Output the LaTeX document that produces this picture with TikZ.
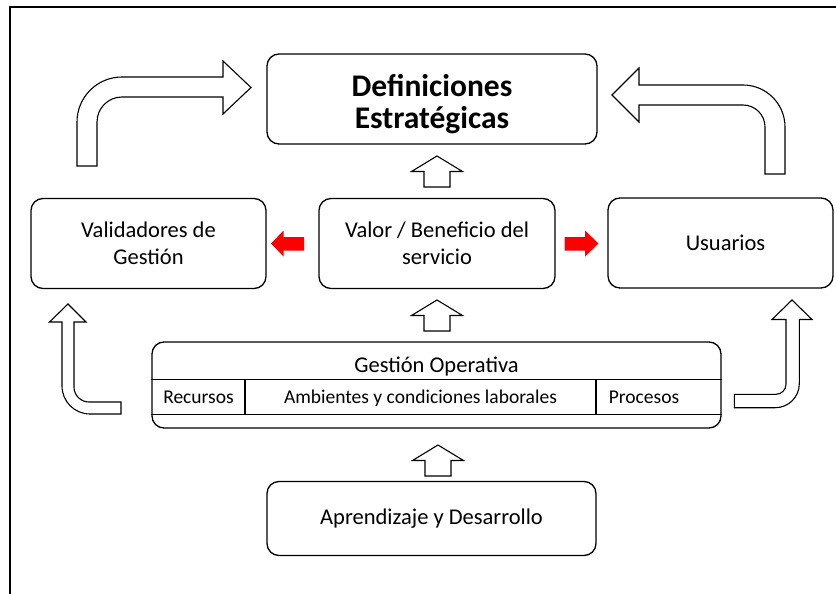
\documentclass[tikz,border=0pt]{standalone}
\usepackage{fontspec}
\setmainfont{Carlito}
\begin{document}
\begin{tikzpicture}[x=1pt,y=-1pt,
  box/.style={draw=black, line width=1.3pt, rounded corners=12pt, align=center, inner sep=0pt, font=\fontsize{22.5}{26.7}\selectfont},
  lbl/.style={inner sep=0pt, align=center},
  rowtxt/.style={inner sep=0pt, anchor=base, font=\fontsize{19.5}{22}\selectfont},
  blk/.style={draw=black, line width=1.1pt, fill=white, line join=miter},
  redarr/.style={fill=red, draw=none},
  uparr/.pic={\draw[blk] (0,0) -- (25.5,15.5) -- (13,15.5) -- (13,31) -- (-13,31) -- (-13,15.5) -- (-25.5,15.5) -- cycle;}
]
\useasboundingbox (0,0) rectangle (836,594);
% frame
\draw[line width=1.5pt] (10,594) -- (10,7) -- (836,7);

% boxes
\node[box, minimum width=330pt, minimum height=90pt] (def) at (432,99) {};
\node[lbl, font=\fontsize{31.5}{32}\selectfont\bfseries] (deft) at (432,104) {Definiciones\\Estratégicas};
\node[box, minimum width=235pt, minimum height=90pt] (val) at (148.5,243.5) {Validadores de\\Gestión};
\node[box, minimum width=236pt, minimum height=90pt] (ben) at (437,243.5) {Valor / Beneficio del\\servicio};
\node[box, minimum width=225pt, minimum height=90pt] (usu) at (720.5,243) {};
\node[lbl, font=\fontsize{22.5}{26.7}\selectfont] (usut) at (725.5,243) {Usuarios};
\node[box, minimum width=569pt, minimum height=86pt] (gest) at (436.5,385) {};
\node[box, minimum width=329pt, minimum height=74pt] (apr) at (431.5,518.5) {Aprendizaje y Desarrollo};

% gestion operativa internals
\draw[line width=1.3pt] (gest.west |- 0,379.5) coordinate (g1) -- (gest.east |- 0,379.5) coordinate (g2);
\draw[line width=1.3pt] (gest.west |- 0,414.5) coordinate (g3) -- (gest.east |- 0,414.5) coordinate (g4);
\draw[line width=1.3pt] (245,379.5) -- (245,414.5);
\draw[line width=1.3pt] (596,379.5) -- (596,414.5);
\node[font=\fontsize{22.5}{26}\selectfont] (gt) at (436.5,367) {Gestión Operativa};
\node[rowtxt] (rec) at (198.5,403.5) {Recursos};
\node[rowtxt] (amb) at (420.5,403.5) {Ambientes y condiciones laborales};
\node[rowtxt] (pro) at (644,403.5) {Procesos};

% straight up block arrows
\pic at (437,156) {uparr};
\pic at (437,300) {uparr};
\pic at (438,445) {uparr};

% red arrows
\fill[redarr] (271,243.5) -- (283.5,230.5) -- (283.5,237) -- (304,237) -- (304,250.5) -- (283.5,250.5) -- (283.5,256.5) -- cycle;
\fill[redarr] (598.5,243.5) -- (585,230.5) -- (585,237) -- (564.5,237) -- (564.5,250.5) -- (585,250.5) -- (585,256.5) -- cycle;

% bent arrow top-left
\draw[blk] (77,166) -- (77,122) .. controls (77,97.1) and (97.1,77) .. (122,77) -- (223,77) -- (223,61) -- (251,87.5) -- (223,114) -- (223,97) -- (122,97) .. controls (108.2,97) and (97,108.2) .. (97,122) -- (97,166) -- cycle;
% bent arrow top-right
\draw[blk] (785,174) -- (785,127) .. controls (785,103.8) and (766.2,85) .. (743,85) -- (639,85) -- (639,68) -- (612,95) -- (639,122) -- (639,105) -- (743,105) .. controls (755.15,105) and (765,114.85) .. (765,127) -- (765,174) -- cycle;
% bent arrow bottom-left
\draw[blk] (68,304) -- (86,322) -- (74,322) -- (74,387) .. controls (74,395.3) and (80.7,402) .. (89,402) -- (121,402) -- (121,414) -- (90,414) .. controls (74.5,414) and (62,401.5) .. (62,386) -- (62,322) -- (49.5,322) -- cycle;
% bent arrow bottom-right
\draw[blk] (792,300) -- (812,319.5) -- (799.3,319.5) -- (799.3,383.7) .. controls (799.3,397) and (788.6,407.7) .. (775.3,407.7) -- (734.3,407.7) -- (734.3,394.3) -- (776,394.3) .. controls (781.5,394.3) and (786,389.8) .. (786,384.3) -- (786,319.5) -- (772,319.5) -- cycle;
\end{tikzpicture}
\end{document}
